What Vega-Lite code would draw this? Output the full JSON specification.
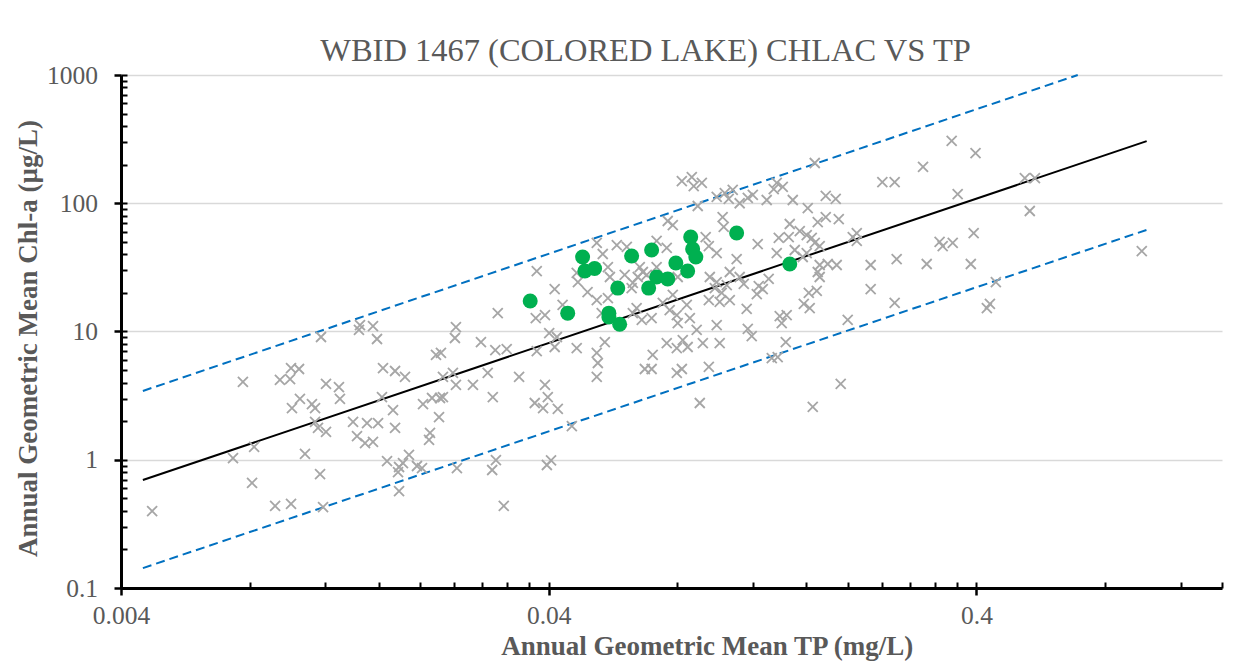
{
 "$schema": "https://vega.github.io/schema/vega-lite/v6.json",
 "width": 1101,
 "height": 513,
 "autosize": {"type": "none"},
 "padding": {"left": 121, "top": 75, "right": 28, "bottom": 73},
 "background": "#ffffff",
 "config": {"view": {"stroke": null}, "font": "Liberation Serif"},
 "title": {"text": "WBID 1467 (COLORED LAKE) CHLAC VS TP", "font": "Liberation Serif", "fontSize": 32.5, "fontWeight": "normal", "color": "#595959", "anchor": "middle", "frame": "group", "dx": -26, "offset": -30, "baseline": "alphabetic"},
 "datasets": {
  "fit": [
   {"series": "upper", "tp": 0.0045, "chla": 3.44}, {"series": "upper", "tp": 0.69, "chla": 1000},
   {"series": "lower", "tp": 0.0045, "chla": 0.143}, {"series": "lower", "tp": 1.0, "chla": 62},
   {"series": "fit", "tp": 0.0045, "chla": 0.695}, {"series": "fit", "tp": 1.0, "chla": 305}
  ],
  "all": [
   {"tp":0.00473,"chla":0.398},{"tp":0.00771,"chla":4.04},{"tp":0.00731,"chla":1.03},{"tp":0.0081,"chla":0.659},{"tp":0.00819,"chla":1.26},{"tp":0.00917,"chla":0.436},{"tp":0.00999,"chla":0.452},{"tp":0.00941,"chla":4.19},{"tp":0.00994,"chla":4.26},{"tp":0.00999,"chla":5.19},{"tp":0.01043,"chla":5.10},{"tp":0.01004,"chla":2.53},{"tp":0.01048,"chla":2.98},{"tp":0.01118,"chla":2.72},{"tp":0.01137,"chla":2.53},{"tp":0.01077,"chla":1.11},{"tp":0.01168,"chla":0.774},{"tp":0.01187,"chla":0.428},{"tp":0.01174,"chla":9.06},{"tp":0.01206,"chla":3.90},{"tp":0.01293,"chla":3.69},{"tp":0.0130,"chla":2.98},{"tp":0.01137,"chla":1.97},{"tp":0.01155,"chla":1.77},{"tp":0.01206,"chla":1.65},{"tp":0.01395,"chla":1.97},{"tp":0.01425,"chla":1.53},{"tp":0.01488,"chla":1.35},{"tp":0.01553,"chla":1.38},{"tp":0.01504,"chla":1.93},{"tp":0.01596,"chla":1.93},{"tp":0.0144,"chla":10.3},{"tp":0.01448,"chla":11.2},{"tp":0.01553,"chla":11.0},{"tp":0.01587,"chla":8.74},{"tp":0.01639,"chla":5.19},{"tp":0.01749,"chla":4.92},{"tp":0.01845,"chla":4.42},{"tp":0.0163,"chla":3.08},{"tp":0.0173,"chla":2.44},{"tp":0.01749,"chla":1.77},{"tp":0.01675,"chla":0.977},{"tp":0.01787,"chla":0.878},{"tp":0.01825,"chla":0.943},{"tp":0.01885,"chla":1.09},{"tp":0.01777,"chla":0.802},{"tp":0.01968,"chla":0.894},{"tp":0.02022,"chla":0.862},{"tp":0.01787,"chla":0.570},{"tp":0.02033,"chla":2.72},{"tp":0.02134,"chla":3.03},{"tp":0.02228,"chla":3.03},{"tp":0.02263,"chla":3.08},{"tp":0.02216,"chla":2.15},{"tp":0.02111,"chla":1.62},{"tp":0.0210,"chla":1.43},{"tp":0.0218,"chla":6.56},{"tp":0.02239,"chla":6.80},{"tp":0.02263,"chla":4.42},{"tp":0.02388,"chla":4.75},{"tp":0.02427,"chla":3.83},{"tp":0.02427,"chla":10.8},{"tp":0.02414,"chla":8.90},{"tp":0.0266,"chla":3.83},{"tp":0.0244,"chla":0.862},{"tp":0.02777,"chla":8.28},{"tp":0.0396,"chla":0.910},{"tp":0.0405,"chla":0.99},{"tp":0.0301,"chla":0.995},{"tp":0.0295,"chla":0.832},{"tp":0.0314,"chla":0.436},
   {"tp":0.0819,"chla":149},{"tp":0.0864,"chla":160},{"tp":0.0873,"chla":136},{"tp":0.0912,"chla":144},{"tp":0.0988,"chla":112},{"tp":0.0892,"chla":95.2},{"tp":0.102,"chla":78.1},{"tp":0.1026,"chla":65.3},{"tp":0.0759,"chla":72.7},{"tp":0.078,"chla":67.6},{"tp":0.0931,"chla":54.5},{"tp":0.0947,"chla":46.4},{"tp":0.0988,"chla":40.9},{"tp":0.0518,"chla":49.0},{"tp":0.0577,"chla":47.2},{"tp":0.0609,"chla":45.6},{"tp":0.0535,"chla":40.2},{"tp":0.0715,"chla":50.8},{"tp":0.0755,"chla":44.8},{"tp":0.0375,"chla":29.6},{"tp":0.0465,"chla":28.6},{"tp":0.0468,"chla":24.3},{"tp":0.0493,"chla":20.3},{"tp":0.0518,"chla":17.6},{"tp":0.055,"chla":31.8},{"tp":0.0556,"chla":26.6},{"tp":0.0602,"chla":27.6},{"tp":0.0653,"chla":31.8},{"tp":0.0664,"chla":29.1},{"tp":0.0646,"chla":26.6},{"tp":0.0678,"chla":27.6},{"tp":0.0629,"chla":23.9},{"tp":0.0625,"chla":21.8},{"tp":0.0715,"chla":31.8},{"tp":0.0801,"chla":26.6},{"tp":0.0952,"chla":26.6},{"tp":0.0988,"chla":24.3},{"tp":0.0978,"chla":21.8},{"tp":0.0947,"chla":17.6},{"tp":0.1004,"chla":17.0},{"tp":0.0413,"chla":21.4},{"tp":0.0304,"chla":13.9},{"tp":0.0373,"chla":12.7},{"tp":0.0392,"chla":13.4},{"tp":0.0431,"chla":16.1},{"tp":0.0532,"chla":13.9},{"tp":0.055,"chla":18.2},{"tp":0.0642,"chla":15.2},{"tp":0.0629,"chla":13.9},{"tp":0.066,"chla":12.3},{"tp":0.0696,"chla":12.7},{"tp":0.0739,"chla":16.7},{"tp":0.0767,"chla":14.7},{"tp":0.0797,"chla":13.4},{"tp":0.0801,"chla":11.6},{"tp":0.0855,"chla":12.7},{"tp":0.078,"chla":19.3},{"tp":0.0841,"chla":16.1},{"tp":0.0988,"chla":11.2},{"tp":0.0401,"chla":9.73},{"tp":0.0418,"chla":9.06},{"tp":0.0300,"chla":7.17},{"tp":0.0319,"chla":7.30},{"tp":0.0375,"chla":7.04},{"tp":0.0413,"chla":7.57},{"tp":0.0465,"chla":7.43},{"tp":0.0518,"chla":6.80},{"tp":0.0541,"chla":8.28},{"tp":0.0521,"chla":5.68},{"tp":0.0755,"chla":8.13},{"tp":0.0797,"chla":7.43},{"tp":0.0823,"chla":8.58},{"tp":0.0845,"chla":7.57},{"tp":0.0887,"chla":10.3},{"tp":0.0917,"chla":8.13},{"tp":0.1004,"chla":8.13},{"tp":0.0671,"chla":5.10},{"tp":0.0696,"chla":5.10},{"tp":0.070,"chla":6.56},{"tp":0.0797,"chla":4.75},{"tp":0.0819,"chla":5.10},{"tp":0.0947,"chla":5.29},{"tp":0.0288,"chla":4.75},{"tp":0.0341,"chla":4.42},{"tp":0.0518,"chla":4.42},{"tp":0.0392,"chla":3.83},{"tp":0.0398,"chla":3.08},{"tp":0.0371,"chla":2.77},{"tp":0.0388,"chla":2.53},{"tp":0.042,"chla":2.49},{"tp":0.0296,"chla":3.08},{"tp":0.0902,"chla":2.77},{"tp":0.0453,"chla":1.83},
   {"tp":0.350,"chla":306},{"tp":0.398,"chla":246},{"tp":0.300,"chla":192},{"tp":0.1675,"chla":206},{"tp":0.241,"chla":146},{"tp":0.2575,"chla":146},{"tp":0.3615,"chla":118},{"tp":0.1365,"chla":144},{"tp":0.1343,"chla":129},{"tp":0.141,"chla":134},{"tp":0.1293,"chla":106},{"tp":0.1488,"chla":106},{"tp":0.120,"chla":116},{"tp":0.1168,"chla":110},{"tp":0.1118,"chla":100},{"tp":0.1077,"chla":127},{"tp":0.1032,"chla":120},{"tp":0.1054,"chla":108},{"tp":0.1777,"chla":114},{"tp":0.1875,"chla":108},{"tp":0.1613,"chla":91.8},{"tp":0.1777,"chla":78.1},{"tp":0.1702,"chla":71.4},{"tp":0.1906,"chla":75.3},{"tp":0.1464,"chla":68.9},{"tp":0.1545,"chla":60.7},{"tp":0.1604,"chla":56.5},{"tp":0.1648,"chla":53.6},{"tp":0.1675,"chla":49.0},{"tp":0.172,"chla":46.4},{"tp":0.138,"chla":53.6},{"tp":0.1456,"chla":54.5},{"tp":0.1232,"chla":48.1},{"tp":0.1365,"chla":40.9},{"tp":0.1504,"chla":43.2},{"tp":0.157,"chla":38.1},{"tp":0.1604,"chla":40.9},{"tp":0.2055,"chla":54.5},{"tp":0.210,"chla":58.6},{"tp":0.210,"chla":50.8},{"tp":0.110,"chla":36.7},{"tp":0.172,"chla":33.0},{"tp":0.1796,"chla":33.6},{"tp":0.1885,"chla":33.0},{"tp":0.1702,"chla":29.1},{"tp":0.172,"chla":26.6},{"tp":0.2263,"chla":33.0},{"tp":0.2603,"chla":36.7},{"tp":0.306,"chla":33.6},{"tp":0.328,"chla":49.9},{"tp":0.3335,"chla":46.4},{"tp":0.352,"chla":49.0},{"tp":0.388,"chla":33.6},{"tp":0.394,"chla":58.6},{"tp":0.106,"chla":29.1},{"tp":0.1118,"chla":26.6},{"tp":0.1143,"chla":23.5},{"tp":0.1043,"chla":23.0},{"tp":0.1015,"chla":20.0},{"tp":0.1239,"chla":22.6},{"tp":0.1266,"chla":21.4},{"tp":0.1307,"chla":25.7},{"tp":0.1226,"chla":19.6},{"tp":0.106,"chla":17.6},{"tp":0.1161,"chla":15.0},{"tp":0.1622,"chla":20.0},{"tp":0.1693,"chla":20.7},{"tp":0.1579,"chla":16.4},{"tp":0.163,"chla":15.2},{"tp":0.1387,"chla":13.2},{"tp":0.144,"chla":13.4},{"tp":0.1402,"chla":11.6},{"tp":0.2263,"chla":21.4},{"tp":0.2575,"chla":16.7},{"tp":0.200,"chla":12.3},{"tp":0.1168,"chla":10.5},{"tp":0.1193,"chla":9.22},{"tp":0.1433,"chla":8.28},{"tp":0.1329,"chla":6.21},{"tp":0.1372,"chla":6.32},{"tp":0.1926,"chla":3.90},{"tp":0.1657,"chla":2.58},
   {"tp":0.519,"chla":157},{"tp":0.548,"chla":157},{"tp":0.533,"chla":87.0},{"tp":0.444,"chla":24.3},{"tp":0.430,"chla":16.4},{"tp":0.423,"chla":15.2},{"tp":0.974,"chla":42.4}
  ],
  "wbid": [
   {"tp":0.0362,"chla":17.3},{"tp":0.0443,"chla":13.9},{"tp":0.048,"chla":38.1},{"tp":0.0486,"chla":29.6},{"tp":0.0512,"chla":31.0},{"tp":0.0553,"chla":13.9},{"tp":0.0553,"chla":13.0},{"tp":0.0586,"chla":11.4},{"tp":0.058,"chla":21.8},{"tp":0.0625,"chla":38.8},{"tp":0.0696,"chla":43.2},{"tp":0.0685,"chla":21.8},{"tp":0.0715,"chla":26.6},{"tp":0.0759,"chla":25.7},{"tp":0.0793,"chla":34.2},{"tp":0.0859,"chla":54.5},{"tp":0.0868,"chla":44.0},{"tp":0.0883,"chla":38.1},{"tp":0.0845,"chla":29.6},{"tp":0.110,"chla":58.6},{"tp":0.1464,"chla":33.6}
  ]
 },
 "layer": [
  {
   "data": {"name": "fit"},
   "transform": [{"filter": "datum.series != 'fit'"}],
   "mark": {"type": "line", "color": "#0070C0", "strokeWidth": 2, "strokeDash": [9, 5]},
   "encoding": {
    "x": {"field": "tp", "type": "quantitative", "scale": {"type": "log", "domain": [0.004, 1.5], "nice": false},
     "axis": {"orient": "bottom", "values": [0.004,0.008,0.012,0.016,0.02,0.024,0.028,0.032,0.036,0.04,0.08,0.12,0.16,0.2,0.24,0.28,0.32,0.36,0.4,0.8,1.2,1.5], "labels": false, "domain": false, "grid": false, "ticks": true, "tickSize": -6, "tickColor": "#000000", "tickWidth": 2, "title": null}},
    "y": {"field": "chla", "type": "quantitative", "scale": {"type": "log", "domain": [0.1, 1000], "nice": false},
     "axis": {"orient": "left", "values": [0.1,0.2,0.3,0.4,0.5,0.6,0.7,0.8,0.9,1,2,3,4,5,6,7,8,9,10,20,30,40,50,60,70,80,90,100,200,300,400,500,600,700,800,900,1000], "labels": false, "domain": false, "grid": false, "ticks": true, "tickSize": -6, "tickColor": "#000000", "tickWidth": 2, "title": null}},
    "detail": {"field": "series"}
   }
  },
  {
   "data": {"name": "fit"},
   "transform": [{"filter": "datum.series == 'fit'"}],
   "mark": {"type": "line", "color": "#000000", "strokeWidth": 2},
   "encoding": {
    "x": {"field": "tp", "type": "quantitative", "scale": {"type": "log", "domain": [0.004, 1.5], "nice": false}, "axis": null},
    "y": {"field": "chla", "type": "quantitative", "scale": {"type": "log", "domain": [0.1, 1000], "nice": false}, "axis": null}
   }
  },
  {
   "data": {"name": "all"},
   "mark": {"type": "point", "shape": "M-1,-1L1,1M1,-1L-1,1", "filled": false, "color": "#A6A6A6", "strokeWidth": 1.8, "size": 100, "opacity": 1},
   "encoding": {
    "x": {"field": "tp", "type": "quantitative", "scale": {"type": "log", "domain": [0.004, 1.5], "nice": false},
     "axis": {"orient": "bottom", "values": [0.004, 0.04, 0.4], "labelExpr": "datum.value + ''", "labelFont": "Liberation Serif", "labelFontSize": 25.5, "labelColor": "#595959", "labelPadding": 8.5, "labelFlush": false, "labelOverlap": false, "domainColor": "#000000", "domainWidth": 3, "tickColor": "#000000", "tickWidth": 2.5, "tickSize": 7, "grid": false,
      "title": "Annual Geometric Mean TP (mg/L)", "titleFont": "Liberation Serif", "titleFontSize": 27, "titleFontWeight": "bold", "titleColor": "#595959", "titleX": 585.7, "titleY": 66, "titleBaseline": "alphabetic", "titleAlign": "center"}},
    "y": {"field": "chla", "type": "quantitative", "scale": {"type": "log", "domain": [0.1, 1000], "nice": false},
     "axis": {"orient": "left", "values": [0.1, 1, 10, 100, 1000], "labelExpr": "datum.value + ''", "labelFont": "Liberation Serif", "labelFontSize": 25.5, "labelColor": "#595959", "labelPadding": 16.5, "labelFlush": false, "labelOverlap": false, "domainColor": "#000000", "domainWidth": 3, "tickColor": "#000000", "tickWidth": 2.5, "tickSize": 7, "grid": true, "gridColor": "#D9D9D9", "gridWidth": 1.5,
      "title": "Annual Geometric Mean Chl-a (µg/L)", "titleFont": "Liberation Serif", "titleFontSize": 27, "titleFontWeight": "bold", "titleColor": "#595959", "titleX": -85, "titleY": 263, "titleAngle": 270, "titleBaseline": "alphabetic", "titleAlign": "center"}}
   }
  },
  {
   "data": {"name": "wbid"},
   "mark": {"type": "circle", "color": "#00B050", "size": 225, "opacity": 1},
   "encoding": {
    "x": {"field": "tp", "type": "quantitative", "scale": {"type": "log", "domain": [0.004, 1.5], "nice": false}, "axis": null},
    "y": {"field": "chla", "type": "quantitative", "scale": {"type": "log", "domain": [0.1, 1000], "nice": false}, "axis": null}
   }
  }
 ],
 "resolve": {"axis": {"x": "independent", "y": "independent"}}
}
